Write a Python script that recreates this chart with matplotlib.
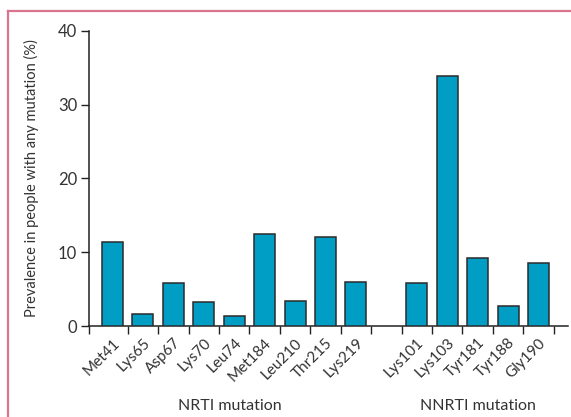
import numpy as np
import matplotlib
matplotlib.use("Agg")
from matplotlib import pyplot as plt
from matplotlib.lines import Line2D

plt.rcParams['font.family'] = ['Lato', 'DejaVu Sans']

# data
nrti_labels = ['Met41', 'Lys65', 'Asp67', 'Lys70', 'Leu74', 'Met184', 'Leu210', 'Thr215', 'Lys219']
nrti_values = [11.4, 1.6, 5.8, 3.2, 1.4, 12.5, 3.4, 12.1, 5.9]
nnrti_labels = ['Lys101', 'Lys103', 'Tyr181', 'Tyr188', 'Gly190']
nnrti_values = [5.8, 33.9, 9.2, 2.7, 8.6]
yticks = [0, 10, 20, 30, 40]

txt = '#333333'
bar_col = '#009ec4'

# slot positions, one empty slot between the two groups
pos_nrti = np.arange(len(nrti_labels))
pos_nnrti = np.arange(len(nnrti_labels)) + len(nrti_labels) + 1
pos = np.concatenate([pos_nrti, pos_nnrti])
labels = nrti_labels + nnrti_labels
values = nrti_values + nnrti_values

fig = plt.figure(figsize=(5.71, 4.17), dpi=100)
ax = fig.add_axes([0.1559, 0.2182, 0.9947 - 0.1559, 0.9257 - 0.2182])

ax.bar(pos, values, width=0.69, color=bar_col, edgecolor='#2b2b2b', linewidth=1.1, zorder=3)

xmin, xmax = -0.77, pos[-1] + 0.97
ax.set_xlim(xmin, xmax)
ax.set_ylim(0, 40)

for s in ['top', 'right']:
    ax.spines[s].set_visible(False)
for s in ['left', 'bottom']:
    ax.spines[s].set_color('#222222')
    ax.spines[s].set_linewidth(1.1)

bounds = [xmin] + list(np.arange(0.5, pos[-1] + 1, 1.0))
ax.set_xticks(bounds)
ax.set_xticklabels([])
ax.tick_params(axis='x', which='major', length=5.5, width=1.0, color='#222222', direction='out')
ax.set_xticks(pos, minor=True)
ax.set_xticklabels(labels, minor=True, rotation=45, ha='right', rotation_mode='anchor',
                   fontsize=11, color=txt)
ax.tick_params(axis='x', which='minor', length=0, pad=7)

ax.set_yticks(yticks)
ax.set_yticklabels([str(v) for v in yticks], fontsize=12, color=txt)
ax.tick_params(axis='y', length=5.5, width=1.0, color='#222222', pad=3)

ax.set_ylabel('Prevalence in people with any mutation (%)', fontsize=10.5, color=txt, labelpad=14)

ax.text(np.mean(pos_nrti) - 0.15, -0.27, 'NRTI mutation', transform=ax.get_xaxis_transform(),
        ha='center', va='center', fontsize=11.5, color=txt)
ax.text(np.mean(pos_nnrti), -0.27, 'NNRTI mutation', transform=ax.get_xaxis_transform(),
        ha='center', va='center', fontsize=11.5, color=txt)

# pink frame (top and left only)
pink = '#d9748f'
fig.add_artist(Line2D([8 / 571, 1], [1 - 10.5 / 417, 1 - 10.5 / 417], transform=fig.transFigure,
                      color=pink, linewidth=1.6))
fig.add_artist(Line2D([8 / 571, 8 / 571], [0, 1 - 10.5 / 417], transform=fig.transFigure,
                      color=pink, linewidth=1.6))

fig.savefig('out.png', dpi=100)
